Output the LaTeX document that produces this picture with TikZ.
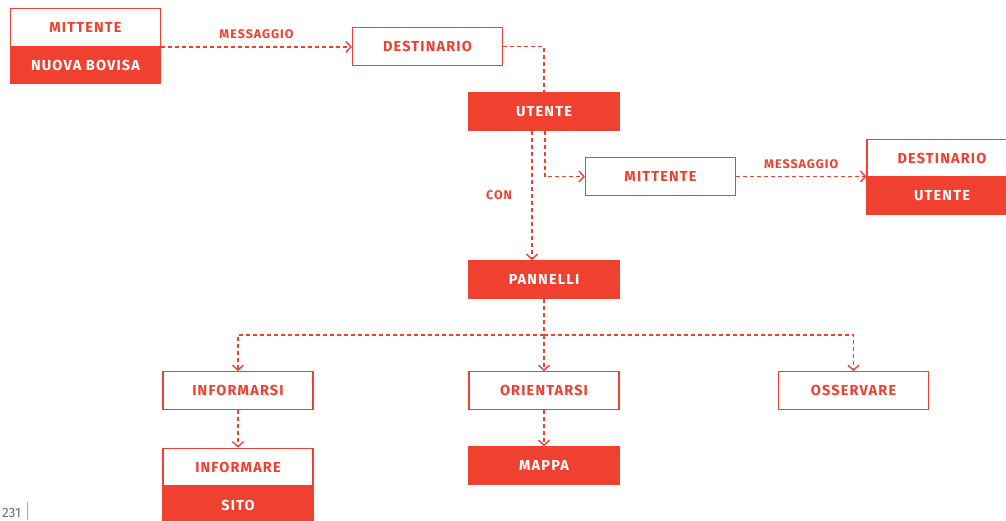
\documentclass[tikz,border=0pt]{standalone}
\usepackage{fontspec}
\setmainfont{Fira Sans}
\newfontfamily\boxfont{Fira Sans}[LetterSpace=8]
\usepackage{tikz}
\usetikzlibrary{positioning,arrows.meta}

\definecolor{rosso}{RGB}{239,64,48}
\definecolor{pagegray}{RGB}{110,110,110}

\tikzset{
  voce/.style={draw=rosso, line width=1.3pt, fill=white, text=rosso,
    minimum width=150pt, minimum height=37.5pt, inner sep=0pt,
    font=\boxfont\bfseries\fontsize{14.5}{15}\selectfont},
  pieno/.style={voce, fill=rosso, text=white},
  link/.style={draw=rosso, line width=1.4pt, dash pattern=on 4pt off 3pt,
    -{Straight Barb[length=5pt,width=11pt]}},
  piano/.style={draw=rosso, line width=1.4pt, dash pattern=on 4pt off 3pt},
  etichetta/.style={text=rosso, font=\boxfont\bfseries\fontsize{12.5}{13}\selectfont}
}

\begin{document}
\begin{tikzpicture}[x=1pt, y=1pt, on grid]
\useasboundingbox (0,0) rectangle (1006,-520);

% primo scambio
\node[voce]  (mitt1)      at (85.5,-27.5)                        {MITTENTE};
\node[pieno] (bovisa)     [below=37.5pt of mitt1]                {NUOVA BOVISA};
\node[voce]  (dest1)      [below right=19pt and 342pt of mitt1]   {DESTINARIO};
\node[pieno] (utente)     [below right=65pt and 116.5pt of dest1] {UTENTE};

% secondo scambio
\node[voce]  (mitt2)      [below right=65pt and 116.5pt of utente] {MITTENTE};
\node[voce]  (dest2)      [above right=18.5pt and 281.5pt of mitt2] {DESTINARIO};
\node[pieno] (utente2)    [below=38pt of dest2]                  {UTENTE};

% pannelli e funzioni
\node[pieno] (pannelli)   [below=168pt of utente]                {PANNELLI};
\node[voce]  (orientarsi) [below=111pt of pannelli]              {ORIENTARSI};
\node[voce]  (informarsi) [left=306pt of orientarsi]             {INFORMARSI};
\node[voce]  (osservare)  [right=309.5pt of orientarsi]          {OSSERVARE};
\node[voce]  (informare)  [below=76.5pt of informarsi]           {INFORMARE};
\node[pieno] (sito)       [below=38pt of informare]              {SITO};
\node[pieno] (mappa)      [below=75pt of orientarsi]             {MAPPA};

% numero di pagina
\node[text=pagegray, font=\fontsize{13.5}{14}\selectfont] (pagina) at (11.5,-513) {231};
\draw[draw=pagegray!60, line width=0.8pt] (27.5,-502) -- (27.5,-520);

% connessioni
\draw[link] (mitt1.south east) -- (mitt1.south east -| dest1.west)
  node[midway, above=4pt, etichetta] {MESSAGGIO};
\draw[piano] (dest1.east) -| (utente.north);
\draw[link] ([xshift=-12pt]utente.south) -- ([xshift=-12pt]pannelli.north)
  node[midway, left=16pt, etichetta] {CON};
\draw[link] ([xshift=1pt]utente.south) |- (mitt2.west);
\draw[link] (mitt2.east) -- (mitt2.east -| dest2.west)
  node[midway, above=4pt, etichetta] {MESSAGGIO};

\draw[piano] (pannelli.south) -- ++(0,-36) coordinate (snodo);
\draw[link] (snodo) -| (informarsi.north);
\draw[link] (snodo) -- (orientarsi.north);
\draw[link] (snodo) -| (osservare.north);
\draw[link] (informarsi) -- (informare);
\draw[link] (orientarsi) -- (mappa);
\end{tikzpicture}
\end{document}
